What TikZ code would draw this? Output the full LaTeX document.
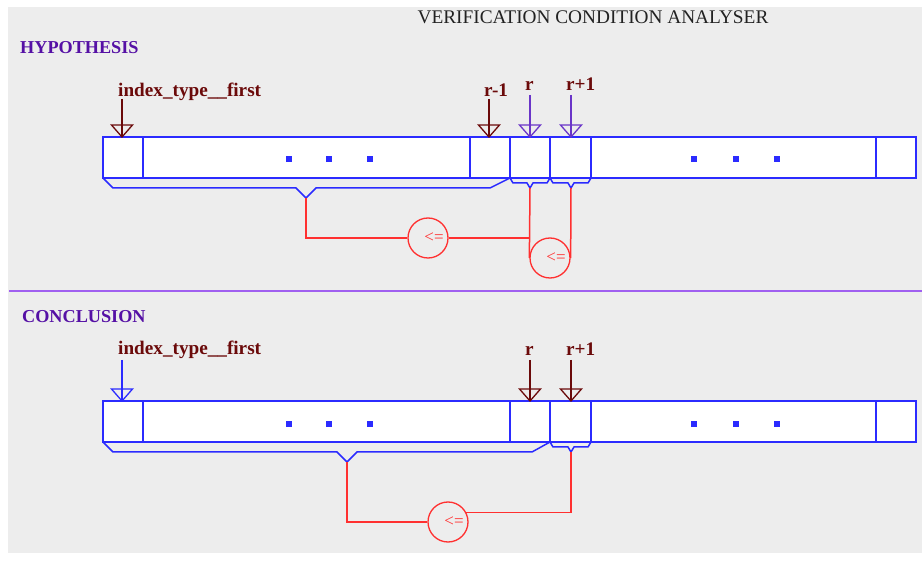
\documentclass[tikz,border=0pt]{standalone}
\usepackage{fontspec}
\setmainfont{Liberation Serif}
\definecolor{bggrey}{HTML}{EDEDED}
\definecolor{arrblue}{HTML}{2B2BFF}
\definecolor{lnred}{HTML}{FF3030}
\definecolor{labred}{HTML}{6B0A0A}
\definecolor{headpurple}{HTML}{5510A5}
\definecolor{ptrpurple}{HTML}{6A35C8}
\definecolor{seppurple}{HTML}{A060F0}
\definecolor{titlegrey}{HTML}{222222}
\tikzset{
  lab/.style={font=\fontsize{19.2}{20}\selectfont\bfseries, text=labred, inner sep=0pt, anchor=base west},
  head/.style={font=\fontsize{18.2}{20}\selectfont\bfseries, text=headpurple, inner sep=0pt, anchor=base west},
  arr/.style={draw=arrblue, line width=1.5pt, fill=white},
  brace/.style={draw=arrblue, line width=1.5pt, line join=miter},
  redln/.style={draw=lnred, line width=1.5pt},
  cmp/.style={circle, draw=lnred, line width=1.3pt, minimum size=40pt, inner sep=0pt, text=lnred, font=\fontsize{17}{17}\selectfont},
  dotsq/.style={fill=arrblue, minimum size=6pt, inner sep=0pt, rectangle},
}
\newcommand\pointer[3]{%
  \draw[#3, line width=1.3pt] (#1) -- (#2);
  \draw[#3, line width=1.3pt] (#2) -- ++(-10.5,-12) -- ++(21,0) -- cycle;}
\begin{document}
\begin{tikzpicture}[x=1pt,y=-1pt]
\useasboundingbox (0,0) rectangle (922,561);
\fill[white] (0,0) rectangle (922,561);
\fill[bggrey] (8,7) rectangle (922,553);
% title and headers
\node[font=\fontsize{19.3}{20}\selectfont, text=titlegrey, inner sep=0pt, anchor=base] (title) at (593,24) {VERIFICATION CONDITION ANALYSER};
\node[head] (hyp) at (20,54) {HYPOTHESIS};
\node[head] (con) at (22,323) {CONCLUSION};
\draw[seppurple, line width=1.6pt] (9,291) -- (922,291);

% ---------------- hypothesis ----------------
\draw[arr] (103,137) rectangle (916,178);
\foreach \x in {143,470,510,550,591,876} \draw[arrblue, line width=1.5pt] (\x,137) -- (\x,178);
\foreach \x [count=\i] in {289,329,370,694,736,777} \node[dotsq] (hd\i) at (\x,159) {};

\node[lab] (hl1) at (118,97) {index\_type\_\_first};
\node[lab] (hl2) at (484,97) {r-1};
\node[lab] (hl3) at (525,91) {r};
\node[lab] (hl4) at (566,91) {r+1};
\coordinate (hs1) at (122,99);  \coordinate (ht1) at (122,137);
\coordinate (hs2) at (489,99);  \coordinate (ht2) at (489,137);
\coordinate (hs3) at (530,95);  \coordinate (ht3) at (530,137);
\coordinate (hs4) at (571,95);  \coordinate (ht4) at (571,137);
\pointer{hs1}{ht1}{labred}
\pointer{hs2}{ht2}{labred}
\pointer{hs3}{ht3}{ptrpurple}
\pointer{hs4}{ht4}{ptrpurple}

\draw[brace] (103,178) -- (113,188) -- (296,188) -- (306,198) -- (316,188) -- (490,188) -- (510,178);
\coordinate (hb) at (306,198);
\draw[brace] (510,178) -- (513,183) -- (527,183) -- (530,188) -- (533,183) -- (547,183) -- (550,178);
\coordinate (hr) at (530,188);
\draw[brace] (550,178) -- (553,183) -- (568,183) -- (571,188) -- (574,183) -- (588,183) -- (591,178);
\coordinate (hr1) at (571,188);

\node[cmp] (c1) at (428,238) {\hspace*{12pt}<=};
\node[cmp] (c2) at (550,258) {\hspace*{12pt}<=};
\draw[redln] (hb) |- (c1.west);
\draw[redln] (c1.east) -- (c1.east -| hr);
\draw[redln] (hr) -- (c2.west);
\draw[redln] (hr1) -- (c2.east);

% ---------------- conclusion ----------------
\draw[arr] (103,401) rectangle (916,442);
\foreach \x in {143,510,550,591,876} \draw[arrblue, line width=1.5pt] (\x,401) -- (\x,442);
\foreach \x [count=\i] in {289,329,370,694,736,777} \node[dotsq] (cd\i) at (\x,424) {};

\node[lab] (cl1) at (118,355) {index\_type\_\_first};
\node[lab] (cl3) at (525,356) {r};
\node[lab] (cl4) at (566,356) {r+1};
\coordinate (cs1) at (122,360);  \coordinate (ct1) at (122,401);
\coordinate (cs3) at (530,360);  \coordinate (ct3) at (530,401);
\coordinate (cs4) at (571,360);  \coordinate (ct4) at (571,401);
\pointer{cs1}{ct1}{arrblue}
\pointer{cs3}{ct3}{labred}
\pointer{cs4}{ct4}{labred}

\draw[brace] (103,442) -- (113,452) -- (337,452) -- (347,462) -- (357,452) -- (532,452) -- (550,442);
\coordinate (cb) at (347,462);
\draw[brace] (550,442) -- (553,447) -- (568,447) -- (571,452) -- (574,447) -- (588,447) -- (591,442);
\coordinate (cr1) at (571,452);

\node[cmp] (c3) at (448,522) {\hspace*{12pt}<=};
\draw[redln] (cb) |- (c3.west);
\draw[redln] (cr1) |- (c3.28);
\end{tikzpicture}
\end{document}
